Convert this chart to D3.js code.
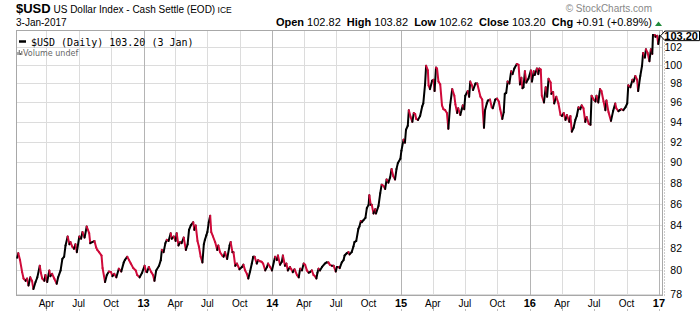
<!DOCTYPE html>
<html>
<head>
<meta charset="utf-8">
<script src="https://cdn.jsdelivr.net/npm/d3@7"></script>
<style>
  body { margin: 0; background: #fff; }
  svg { display: block; font-family: 'Liberation Sans', Arial, sans-serif; }
</style>
</head>
<body>
<div id="chart"></div>
<script>
// daily closes, [date, close]
const usd2012 = [["2012-01-09",81.1],["2012-01-12",81.5],["2012-01-17",80.9],["2012-01-23",79.85],["2012-01-27",79.3],["2012-02-02",79.1],["2012-02-06",79.3],["2012-02-10",78.7],["2012-02-15",79.4],["2012-02-20",79.1],["2012-02-24",78.4],["2012-03-01",79.0],["2012-03-06",79.4],["2012-03-13",80.4],["2012-03-16",79.8],["2012-03-20",79.3],["2012-03-26",79.1],["2012-03-29",79.6],["2012-04-03",79.0],["2012-04-09",80.0],["2012-04-12",79.5],["2012-04-17",79.7],["2012-04-23",79.3],["2012-04-30",78.85],["2012-05-04",79.4],["2012-05-11",80.0],["2012-05-16",81.0],["2012-05-21",81.2],["2012-05-25",82.2],["2012-05-31",83.0],["2012-06-05",82.3],["2012-06-08",82.5],["2012-06-13",82.1],["2012-06-18",81.9],["2012-06-22",82.3],["2012-06-26",81.6],["2012-07-03",83.0],["2012-07-08",82.8],["2012-07-12",83.4],["2012-07-18",82.9],["2012-07-24",83.9],["2012-07-31",83.3],["2012-08-03",82.4],["2012-08-09",82.5],["2012-08-15",82.6],["2012-08-20",82.0],["2012-08-23",81.8],["2012-08-28",81.6],["2012-09-04",81.3],["2012-09-07",80.2],["2012-09-14",79.0],["2012-09-19",79.6],["2012-09-25",79.9],["2012-10-01",79.85],["2012-10-05",79.5],["2012-10-10",79.7],["2012-10-16",79.4],["2012-10-23",80.15],["2012-10-30",79.9],["2012-11-06",80.7],["2012-11-09",80.9],["2012-11-16",81.2],["2012-11-21",80.9],["2012-11-26",80.6],["2012-12-03",80.2],["2012-12-10",80.0],["2012-12-14",79.6],["2012-12-21",79.4],["2012-12-28",79.8]]
const usd2013 = [["2013-01-04",80.4],["2013-01-08",79.9],["2013-01-11",79.85],["2013-01-16",80.3],["2013-01-23",79.85],["2013-01-28",79.6],["2013-02-01",79.1],["2013-02-06",80.0],["2013-02-14",80.4],["2013-02-19",80.9],["2013-02-22",81.8],["2013-02-27",81.6],["2013-03-04",82.4],["2013-03-08",82.7],["2013-03-13",82.6],["2013-03-19",83.3],["2013-03-22",82.8],["2013-03-28",83.0],["2013-04-02",82.6],["2013-04-05",83.3],["2013-04-10",82.2],["2013-04-15",82.5],["2013-04-19",82.4],["2013-04-25",82.9],["2013-05-01",81.8],["2013-05-06",82.3],["2013-05-10",83.6],["2013-05-15",84.0],["2013-05-22",84.3],["2013-05-25",83.6],["2013-05-29",84.0],["2013-06-03",82.6],["2013-06-07",82.1],["2013-06-12",81.2],["2013-06-17",80.7],["2013-06-21",82.3],["2013-06-24",82.7],["2013-06-28",83.1],["2013-07-01",83.4],["2013-07-05",84.3],["2013-07-09",84.9],["2013-07-12",83.4],["2013-07-17",83.0],["2013-07-23",82.5],["2013-07-29",81.8],["2013-08-01",82.2],["2013-08-06",81.6],["2013-08-12",81.3],["2013-08-16",81.2],["2013-08-20",81.6],["2013-08-26",81.0],["2013-09-02",82.2],["2013-09-05",82.5],["2013-09-10",81.6],["2013-09-13",81.6],["2013-09-18",80.4],["2013-09-23",80.6],["2013-09-30",80.1],["2013-10-07",80.3],["2013-10-11",80.5],["2013-10-16",80.0],["2013-10-21",79.7],["2013-10-25",79.3],["2013-10-30",79.9],["2013-11-04",80.6],["2013-11-08",81.2],["2013-11-12",81.2],["2013-11-18",80.6],["2013-11-22",80.9],["2013-11-27",80.8],["2013-12-02",80.75],["2013-12-06",80.6],["2013-12-12",80.0],["2013-12-17",80.3],["2013-12-20",80.6],["2013-12-26",80.3],["2013-12-31",80.0]]
const usd2014 = [["2014-01-06",80.8],["2014-01-09",81.2],["2014-01-14",80.9],["2014-01-17",81.3],["2014-01-23",80.5],["2014-01-28",80.75],["2014-01-31",81.3],["2014-02-06",80.4],["2014-02-10",80.6],["2014-02-14",80.0],["2014-02-20",80.3],["2014-02-24",80.1],["2014-02-28",79.85],["2014-03-05",80.1],["2014-03-12",79.6],["2014-03-17",79.4],["2014-03-21",80.15],["2014-03-26",80.0],["2014-03-31",80.6],["2014-04-04",80.5],["2014-04-09",80.0],["2014-04-14",79.8],["2014-04-18",79.85],["2014-04-23",80.0],["2014-04-28",79.6],["2014-05-02",79.5],["2014-05-06",79.3],["2014-05-09",79.8],["2014-05-12",80.15],["2014-05-16",80.0],["2014-05-22",80.3],["2014-05-30",80.6],["2014-06-04",80.7],["2014-06-09",80.7],["2014-06-13",80.5],["2014-06-19",80.4],["2014-06-24",80.4],["2014-06-30",79.9],["2014-07-03",80.3],["2014-07-08",80.3],["2014-07-11",80.2],["2014-07-17",80.7],["2014-07-22",80.9],["2014-07-25",81.3],["2014-07-31",81.5],["2014-08-05",81.6],["2014-08-08",81.4],["2014-08-14",81.6],["2014-08-19",82.1],["2014-08-22",82.5],["2014-08-27",82.6],["2014-09-02",83.7],["2014-09-05",83.9],["2014-09-09",84.4],["2014-09-12",84.3],["2014-09-17",84.5],["2014-09-22",84.7],["2014-09-26",85.6],["2014-10-01",85.9],["2014-10-03",86.8],["2014-10-07",85.9],["2014-10-10",85.9],["2014-10-15",85.1],["2014-10-20",85.5],["2014-10-22",85.1],["2014-10-29",85.8],["2014-11-03",87.0],["2014-11-07",87.8],["2014-11-12",87.7],["2014-11-17",87.4],["2014-11-21",88.3],["2014-11-26",88.0],["2014-12-01",88.5],["2014-12-05",89.3],["2014-12-10",88.6],["2014-12-15",88.3],["2014-12-19",89.3],["2014-12-23",89.9],["2014-12-30",90.3]]
const usd2015 = [["2015-01-02",91.1],["2015-01-08",92.2],["2015-01-12",91.9],["2015-01-15",93.2],["2015-01-20",93.6],["2015-01-23",95.2],["2015-01-28",94.5],["2015-02-02",94.0],["2015-02-06",94.9],["2015-02-10",94.8],["2015-02-13",94.3],["2015-02-18",94.2],["2015-02-24",94.6],["2015-03-02",95.6],["2015-03-05",95.9],["2015-03-10",97.9],["2015-03-13",99.9],["2015-03-18",99.4],["2015-03-20",97.8],["2015-03-24",97.4],["2015-03-30",98.3],["2015-04-03",98.4],["2015-04-06",97.2],["2015-04-10",99.7],["2015-04-13",99.6],["2015-04-17",98.2],["2015-04-22",97.9],["2015-04-27",95.7],["2015-05-01",95.3],["2015-05-06",95.2],["2015-05-11",94.9],["2015-05-15",93.3],["2015-05-20",95.7],["2015-05-26",97.4],["2015-06-01",96.7],["2015-06-04",95.8],["2015-06-09",94.9],["2015-06-12",95.4],["2015-06-18",94.7],["2015-06-22",95.3],["2015-06-25",95.7],["2015-06-29",95.3],["2015-07-02",96.7],["2015-07-09",97.2],["2015-07-13",96.6],["2015-07-16",98.2],["2015-07-21",97.8],["2015-07-24",97.3],["2015-07-31",98.0],["2015-08-05",98.0],["2015-08-10",97.2],["2015-08-14",96.6],["2015-08-19",96.3],["2015-08-21",95.0],["2015-08-24",93.4],["2015-08-27",95.2],["2015-09-01",95.9],["2015-09-04",96.2],["2015-09-10",96.3],["2015-09-15",95.5],["2015-09-18",95.4],["2015-09-25",96.3],["2015-09-30",96.4],["2015-10-05",96.1],["2015-10-09",95.3],["2015-10-15",94.3],["2015-10-19",95.0],["2015-10-22",96.9],["2015-10-26",97.0],["2015-10-30",98.2],["2015-11-04",98.0],["2015-11-09",99.3],["2015-11-13",99.0],["2015-11-18",99.6],["2015-11-25",100.1],["2015-11-30",100.0],["2015-12-04",97.9],["2015-12-08",98.6],["2015-12-11",97.5],["2015-12-14",97.6],["2015-12-18",99.3],["2015-12-22",98.1],["2015-12-28",98.5]]
const usd2016 = [["2016-01-04",99.4],["2016-01-07",98.2],["2016-01-12",99.3],["2016-01-15",98.9],["2016-01-21",99.6],["2016-01-25",99.0],["2016-01-28",99.6],["2016-02-01",99.5],["2016-02-04",96.7],["2016-02-10",96.0],["2016-02-15",97.6],["2016-02-19",96.6],["2016-02-23",98.5],["2016-02-29",98.1],["2016-03-02",96.9],["2016-03-07",97.1],["2016-03-10",95.9],["2016-03-16",96.6],["2016-03-22",95.9],["2016-03-28",94.7],["2016-04-01",94.6],["2016-04-06",94.9],["2016-04-11",94.2],["2016-04-15",94.7],["2016-04-22",94.0],["2016-04-25",94.6],["2016-04-29",93.0],["2016-05-04",93.4],["2016-05-09",94.2],["2016-05-13",94.6],["2016-05-18",95.5],["2016-05-23",95.3],["2016-05-27",95.7],["2016-06-01",95.4],["2016-06-06",94.0],["2016-06-10",94.5],["2016-06-16",93.8],["2016-06-21",93.7],["2016-06-24",96.7],["2016-06-30",96.3],["2016-07-05",96.1],["2016-07-08",96.7],["2016-07-13",96.0],["2016-07-18",97.4],["2016-07-22",97.2],["2016-07-28",96.1],["2016-08-02",95.2],["2016-08-05",96.2],["2016-08-11",95.0],["2016-08-18",94.1],["2016-08-24",95.1],["2016-08-30",95.9],["2016-09-02",95.4],["2016-09-08",95.1],["2016-09-12",95.2],["2016-09-16",95.3],["2016-09-22",95.2],["2016-09-28",95.5],["2016-10-03",95.9],["2016-10-06",97.8],["2016-10-12",97.6],["2016-10-18",98.4],["2016-10-21",98.2],["2016-10-26",98.8],["2016-10-31",98.4],["2016-11-03",97.2],["2016-11-09",98.8],["2016-11-14",99.9],["2016-11-17",101.3],["2016-11-22",100.8],["2016-11-25",101.7],["2016-11-30",101.3],["2016-12-05",100.4],["2016-12-09",101.7],["2016-12-13",101.2],["2016-12-15",103.3],["2016-12-20",103.3],["2016-12-22",103.1],["2016-12-27",103.2],["2016-12-30",102.3]]
const usd2017 = [["2017-01-03",103.2]]

const yTicks = [78, 80, 82, 84, 86, 88, 90, 92, 94, 96, 98, 100, 102]
const quoteLabels = ['Open', 'High', 'Low', 'Close', 'Chg']
const quoteValues = ['102.82', '103.82', '102.62', '103.20', '+0.91 (+0.89%)']

const width = 700, height = 312
const plotL = 16.5, plotR = 662.5, plotT = 30.5, plotB = 295.5
const upColor = '#000', downColor = '#cf0a3a'

const parse = d3.timeParse('%Y-%m-%d')
const data = [...usd2012, ...usd2013, ...usd2014, ...usd2015, ...usd2016, ...usd2017]
  .map(([d, v]) => ({ date: parse(d), close: v }))
const last = data[data.length - 1]

const svg = d3.select('#chart').append('svg')
  .attr('width', width).attr('height', height)

svg.append('rect').attr('width', width).attr('height', height).attr('fill', '#fff')

const x = d3.scaleTime()
  .domain([new Date(2012, 0, 7), new Date(2017, 0, 11)])
  .range([plotL, plotR])

const y = d3.scaleLog()
  .domain([77.85, 103.8])
  .range([plotB, plotT])

const qTicks = x.ticks(d3.timeMonth.every(3))

// grid
svg.append('g')
  .selectAll('line')
  .data(yTicks)
  .join('line')
  .attr('x1', plotL).attr('x2', plotR)
  .attr('y1', d => Math.round(y(d)) + 0.5).attr('y2', d => Math.round(y(d)) + 0.5)
  .attr('stroke', '#dcdcdc')

svg.append('g')
  .selectAll('line')
  .data(qTicks)
  .join('line')
  .attr('x1', d => Math.round(x(d)) + 0.5).attr('x2', d => Math.round(x(d)) + 0.5)
  .attr('y1', plotT).attr('y2', plotB)
  .attr('stroke', d => d.getMonth() === 0 ? '#b4b4b4' : '#dcdcdc')

// frame
svg.append('rect')
  .attr('x', plotL).attr('y', plotT)
  .attr('width', plotR - plotL).attr('height', plotB - plotT)
  .attr('fill', 'none').attr('stroke', '#a8a8a8')

svg.append('line')
  .attr('x1', plotR + 2).attr('x2', plotR + 2)
  .attr('y1', plotT).attr('y2', plotB)
  .attr('stroke', '#999').attr('stroke-dasharray', '1,2')

// price line, black on up days and red on down days
const segs = d3.pairs(data)
svg.append('g')
  .selectAll('line')
  .data(segs)
  .join('line')
  .attr('x1', d => x(d[0].date)).attr('y1', d => y(d[0].close))
  .attr('x2', d => x(d[1].date)).attr('y2', d => y(d[1].close))
  .attr('stroke', d => d[1].close >= d[0].close ? upColor : downColor)
  .attr('stroke-width', 2)
  .attr('stroke-linecap', 'round')

// right axis
svg.append('g')
  .selectAll('text')
  .data(yTicks)
  .join('text')
  .attr('x', 682)
  .attr('y', d => y(d) + 4)
  .attr('text-anchor', 'end')
  .attr('font-size', 10.5)
  .text(d => d)

// bottom axis
svg.append('g')
  .selectAll('text')
  .data(qTicks.filter(d => x(d) > plotL + 10))
  .join('text')
  .attr('x', d => x(d))
  .attr('y', 307)
  .attr('text-anchor', 'middle')
  .attr('font-size', d => d.getMonth() === 0 ? 11 : 10)
  .attr('font-weight', d => d.getMonth() === 0 ? 'bold' : 'normal')
  .text(d => d.getMonth() === 0 ? d3.timeFormat('%y')(d) : d3.timeFormat('%b')(d))

svg.append('g')
  .selectAll('line')
  .data(qTicks)
  .join('line')
  .attr('x1', d => Math.round(x(d)) + 0.5).attr('x2', d => Math.round(x(d)) + 0.5)
  .attr('y1', 309).attr('y2', 311)
  .attr('stroke', '#bbb')

// last price tag
const ly = y(last.close)
svg.append('path')
  .attr('d', `M${plotR - 2},${ly} L${plotR + 2.5},${ly - 4.8} H699.5 V${ly + 4.8} H${plotR + 2.5} Z`)
  .attr('fill', '#fff').attr('stroke', '#000')
svg.append('text')
  .attr('x', 698).attr('y', ly + 4)
  .attr('text-anchor', 'end')
  .attr('font-size', 11).attr('font-weight', 'bold')
  .text(last.close.toFixed(2))

// header
const title = svg.append('text').attr('x', 16).attr('y', 13)
title.append('tspan').attr('font-size', 13).attr('font-weight', 'bold').text('$USD')
title.append('tspan').attr('font-size', 10).text(' US Dollar Index - Cash Settle (EOD)')
title.append('tspan').attr('font-size', 8.5).text(' ICE')

svg.append('text').attr('x', 16).attr('y', 26).attr('font-size', 10)
  .text(d3.timeFormat('%-d-%b-%Y')(last.date))

svg.append('text').attr('x', 652).attr('y', 12)
  .attr('text-anchor', 'end').attr('font-size', 10).attr('fill', '#888')
  .text('© StockCharts.com')

const quote = svg.append('text')
  .attr('x', 652).attr('y', 26)
  .attr('text-anchor', 'end').attr('font-size', 11)
quoteLabels.forEach((label, i) => {
  quote.append('tspan').attr('font-weight', 'bold').text((i ? '\u00a0\u00a0' : '') + label)
  quote.append('tspan').text('\u00a0' + quoteValues[i])
})
svg.append('path')
  .attr('d', 'M655,26 L658.5,21.5 L662,26 Z')
  .attr('fill', '#1f8a3a')

// legend
svg.append('line')
  .attr('x1', 19).attr('x2', 26).attr('y1', 41.5).attr('y2', 41.5)
  .attr('stroke', '#000').attr('stroke-width', 2.5)
svg.append('text')
  .attr('x', 31).attr('y', 45.5)
  .attr('font-family', "'DejaVu Sans Mono', monospace").attr('font-size', 10)
  .text(`$USD (Daily) ${last.close.toFixed(2)} (3 Jan)`)

svg.append('g')
  .selectAll('rect')
  .data([3, 5, 2, 4])
  .join('rect')
  .attr('x', (d, i) => 17.5 + i * 1.3).attr('y', d => 55 - d)
  .attr('width', 0.9).attr('height', d => d)
  .attr('fill', '#555')
svg.append('text')
  .attr('x', 23).attr('y', 55.5)
  .attr('font-family', "'DejaVu Sans', sans-serif").attr('font-size', 8)
  .attr('fill', '#666')
  .text('Volume undef')
</script>
</body>
</html>
